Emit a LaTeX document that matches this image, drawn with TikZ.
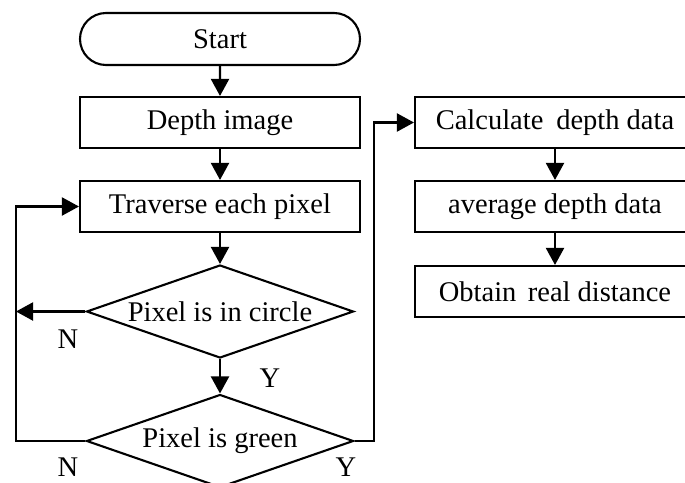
\documentclass[tikz,border=0pt]{standalone}
\usepackage{fontspec}
\setmainfont{Liberation Serif}
\usetikzlibrary{shapes.geometric,shapes.misc,arrows.meta}
\begin{document}
\begin{tikzpicture}[x=1pt,y=-1pt,
  every node/.style={font=\fontsize{28.5}{32}\selectfont},
  box/.style={draw, line width=2.1pt, minimum width=280pt, minimum height=51pt, inner sep=0pt},
  term/.style={box, rounded rectangle, minimum height=52pt},
  decision/.style={draw, diamond, line width=2.1pt, minimum width=267pt, minimum height=93pt, inner sep=0pt},
  flow/.style={draw, line width=2.1pt, line join=miter, -{Triangle[length=17pt,width=18pt]}},
  yn/.style={inner sep=0pt}
]
\useasboundingbox (0,0) rectangle (685,482);
\clip (0,0) rectangle (685,482);

% left column
\node[term] (start) at (220,39) {Start};
\node[box] (depth) at (220,122.5) {Depth image};
\node[box] (trav) at (220,206.5) {Traverse each pixel};
\node[decision] (circ) at (220,311.5) {\makebox[0pt]{Pixel is in circle}};
\node[decision] (green) at (220,441) {\makebox[0pt]{Pixel is green}};

% right column
\node[box] (calc) at (555,122.5) {Calculate\hspace{0.45em}depth data};
\node[box] (avg) at (555,206.5) {average depth data};
\node[box] (obt) at (555,291.5) {Obtain\hspace{0.4em}real distance};

% return and branch lines
\coordinate (lx) at (16,0);
\coordinate (rx) at (374,0);

\draw[flow] (start) -- (depth);
\draw[flow] (depth) -- (trav);
\draw[flow] (trav) -- (circ);
\draw[flow] (circ) -- (green);
\draw[flow] (circ.west) -- (circ.west -| lx);
\draw[flow] (green.west) -- (green.west -| lx) |- (trav.west);
\draw[flow] (green.east) -- (green.east -| rx) |- (calc.west);
\draw[flow] (calc) -- (avg);
\draw[flow] (avg) -- (obt);

% branch labels
\node[yn] (n1) at (68,339) {N};
\node[yn] (y1) at (270,378) {Y};
\node[yn] (n2) at (68,467) {N};
\node[yn] (y2) at (346,467) {Y};
\end{tikzpicture}
\end{document}
